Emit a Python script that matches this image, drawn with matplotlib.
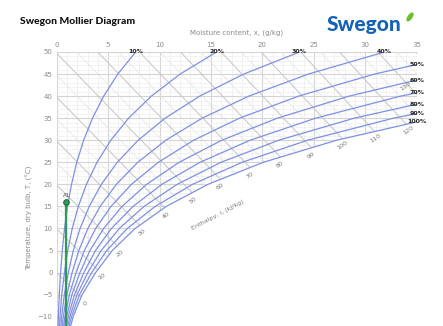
import numpy as np
import matplotlib
matplotlib.use("Agg")
import matplotlib.pyplot as plt
from matplotlib.patches import Polygon, Ellipse

# -------------------------
# Data
# -------------------------
temps = [-15, -10, -5, 0, 5, 10, 15, 20, 25, 30, 35, 40, 45, 50]  # degC

# moisture content x (g/kg) of each relative humidity curve at the temps above
rh10 = [0.10, 0.16, 0.25, 0.38, 0.54, 0.76, 1.05, 1.44, 1.95, 2.62, 3.48, 4.57, 5.94, 7.68]
rh20 = [0.20, 0.32, 0.49, 0.75, 1.07, 1.51, 2.10, 2.89, 3.92, 5.26, 6.99, 9.20, 12.00, 15.54]
rh30 = [0.30, 0.48, 0.74, 1.13, 1.61, 2.27, 3.16, 4.34, 5.89, 7.92, 10.54, 13.90, 18.18, 23.61]
rh40 = [0.41, 0.64, 0.99, 1.50, 2.15, 3.03, 4.22, 5.80, 7.88, 10.61, 14.14, 18.68, 24.47, 31.88]
rh50 = [0.51, 0.80, 1.23, 1.88, 2.69, 3.79, 5.28, 7.26, 9.88, 13.31, 17.77, 23.52, 30.90, 40.37]
rh60 = [0.61, 0.96, 1.48, 2.26, 3.23, 4.56, 6.35, 8.74, 11.90, 16.05, 21.45, 28.44, 37.45, 49.09]
rh70 = [0.71, 1.12, 1.73, 2.64, 3.77, 5.32, 7.42, 10.22, 13.93, 18.80, 25.17, 33.44, 44.13, 58.03]
rh80 = [0.81, 1.28, 1.97, 3.02, 4.32, 6.09, 8.49, 11.70, 15.97, 21.58, 28.93, 38.51, 50.95, 67.22]
rh90 = [0.91, 1.44, 2.22, 3.40, 4.86, 6.86, 9.57, 13.20, 18.02, 24.38, 32.74, 43.66, 57.92, 76.65]
rh100 = [1.02, 1.60, 2.47, 3.78, 5.40, 7.63, 10.65, 14.70, 20.09, 27.21, 36.59, 48.90, 65.02, 86.35]

rh_curves = [rh10, rh20, rh30, rh40, rh50, rh60, rh70, rh80, rh90, rh100]
rh_labels = ["10%", "20%", "30%", "40%", "50%", "60%", "70%", "80%", "90%", "100%"]

# enthalpy lines (kJ/kg) and the ones that carry a label
enthalpy_lines = list(range(-20, 150, 5))
enthalpy_labels = list(range(0, 140, 10))

# state point
point_name = "A1"
point_x = 0.95
point_t = 16.0

x_ticks = [0, 5, 10, 15, 20, 25, 30, 35]
t_ticks = [-10, -5, 0, 5, 10, 15, 20, 25, 30, 35, 40, 45, 50]

x_min, x_max = 0, 35
t_min, t_max = -12.1, 50

# -------------------------
# Figure
# -------------------------
fig = plt.figure(figsize=(4.43, 3.26), dpi=100)
ax = fig.add_axes([0.128, 0.0, 0.8126, 0.8405])
ax.set_xlim(x_min, x_max)
ax.set_ylim(t_min, t_max)
for s in ax.spines.values():
    s.set_visible(False)

T = np.array(temps, dtype=float)
sat = np.array(rh100, dtype=float)

# unsaturated region used to clip the grid
clip = Polygon(np.column_stack([[0] + list(sat) + [0], [temps[0]] + temps + [t_max]]),
               closed=True, transform=ax.transData, facecolor="none", edgecolor="none")
ax.add_patch(clip)

# grid: moisture and temperature
for xv in range(0, 36):
    major = xv % 5 == 0
    ln, = ax.plot([xv, xv], [t_min, t_max], color="#d4d4d4" if major else "#ececec",
                  lw=0.8 if major else 0.5, zorder=1)
    ln.set_clip_path(clip)
for tv in range(-12, 51):
    major = tv % 5 == 0
    ln, = ax.plot([x_min, x_max], [tv, tv], color="#d4d4d4" if major else "#eeeeee",
                  lw=0.8 if major else 0.5, zorder=1)
    ln.set_clip_path(clip)

# enthalpy lines
def t_of(h, x):
    return (h - 2.501 * x) / (1.006 + 0.00186 * x)

for h in enthalpy_lines:
    major = h % 10 == 0
    ln, = ax.plot([0, 40], [t_of(h, 0), t_of(h, 40)], color="#c6c6c6" if major else "#e4e4e4",
                  lw=0.7 if major else 0.5, zorder=1)
    ln.set_clip_path(clip)

# relative humidity curves
for xs, lab in zip(rh_curves, rh_labels):
    ax.plot(xs, temps, color="#7f90e4", lw=0.9, zorder=3)
    xs = np.array(xs)
    if xs[-1] <= x_max:
        lx, ly = xs[-1], t_max
    else:
        lx, ly = x_max, np.interp(x_max, xs, T)
    ax.text(lx, ly, lab, fontsize=4.5, fontweight="bold", color="#222222",
            ha="center", va="center", zorder=5, clip_on=False)

# enthalpy labels along the saturation line
h_sat = 1.006 * T + sat * (2501 + 1.86 * T) / 1000
for h in enthalpy_labels:
    lx = np.interp(h, h_sat, sat)
    ly = np.interp(h, h_sat, T)
    if lx > x_max - 1:
        lx = 33.4
        ly = t_of(h, lx)
    ax.annotate(str(h), (lx, ly), xytext=(3.5, -4), textcoords="offset points",
                fontsize=4.6, color="#7a7a7a", rotation=35, ha="center", va="center",
                zorder=5)

ax.text(15.7, 13.1, "Enthalpy, i, (kJ/kg)", fontsize=4.6, color="#7a7a7a",
        rotation=28, ha="center", va="center", zorder=5)

# state point A1
ax.vlines(point_x, t_min, point_t, color="#2e9a5a", lw=1.6, zorder=6)
ax.plot([point_x], [point_t], "o", ms=4, mfc="#2f9e5e", mec="#1d6b3b", mew=0.8, zorder=7)
ax.annotate(point_name, (point_x, point_t), xytext=(0, 5), textcoords="offset points",
            fontsize=4, color="#444444", ha="center", va="center", zorder=7)

# axes
ax.xaxis.tick_top()
ax.xaxis.set_label_position("top")
ax.set_xticks(x_ticks)
ax.set_yticks(t_ticks)
ax.tick_params(length=0, labelsize=5, labelcolor="#8a8a8a", pad=3)
ax.set_xlabel("Moisture content, x, (g/kg)", fontsize=5, color="#8a8a8a", labelpad=5)
ax.set_ylabel("Temperature, dry bulb, T, (\u00b0C)", fontsize=5, color="#8a8a8a")
ax.yaxis.set_label_coords(-0.066, 0.394)

# heading and logo
fig.text(0.045, 0.933, "Swegon Mollier Diagram", fontsize=7.5, fontweight="black",
         color="#111111", ha="left", va="center", family="Lato")
fig.text(0.905, 0.925, "Swegon", fontsize=15, fontweight="black", color="#1462b8",
         ha="right", va="center", family="Lato")
fig.patches.append(Ellipse((4.10, 3.09), 0.09, 0.035, angle=55, color="#6cbf2d",
                           transform=fig.dpi_scale_trans, figure=fig))

plt.savefig("out.png", dpi=100)
